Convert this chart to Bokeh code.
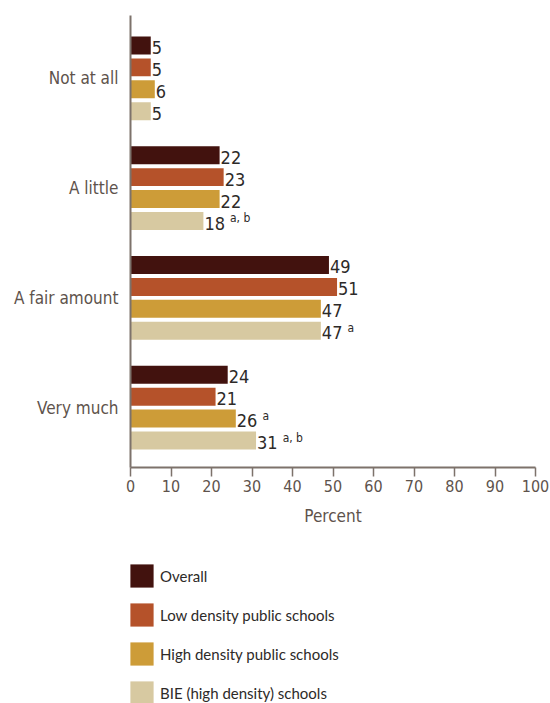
from bokeh.plotting import figure
from bokeh.layouts import column
from bokeh.models import ColumnDataSource, Range1d, FixedTicker, Legend, LegendItem
from bokeh.core.properties import value
from bokeh.embed import file_html
from bokeh.resources import INLINE

categories = ["Not at all", "A little", "A fair amount", "Very much"]
series_names = ["Overall", "Low density public schools", "High density public schools", "BIE (high density) schools"]
overall = [5, 22, 49, 24]
low_density = [5, 23, 51, 21]
high_density = [6, 22, 47, 26]
bie = [5, 18, 47, 31]
notes_overall = ["", "", "", ""]
notes_low = ["", "", "", ""]
notes_high = ["", "", "", "a"]
notes_bie = ["", "a, b", "a", "a, b"]
colors = ["#42120e", "#b5522a", "#cd9c38", "#d7c9a1"]
x_ticks = [0, 10, 20, 30, 40, 50, 60, 70, 80, 90, 100]

FONT = "DejaVu Sans Condensed"
LEG_FONT = "Lato"

p = figure(width=550, height=548, output_backend="svg", toolbar_location=None,
           x_range=Range1d(0, 100), y_range=Range1d(3.5455, -0.5727),
           min_border_left=130, min_border_right=15, min_border_top=15, min_border_bottom=81)
p.outline_line_color = None
p.xgrid.visible = False
p.ygrid.visible = False
p.background_fill_color = "white"
p.border_fill_color = "white"

all_vals = [overall, low_density, high_density, bie]
all_notes = [notes_overall, notes_low, notes_high, notes_bie]
step = 0.2
bar_h = 18 / 110
DIGIT_W = 10.3
for j, (vals, notes, col) in enumerate(zip(all_vals, all_notes, colors)):
    ys = [i + (j - 1.5) * step for i in range(len(categories))]
    src = ColumnDataSource(dict(y=ys, right=vals, label=[str(v) for v in vals]))
    p.hbar(y="y", left=0, right="right", height=bar_h, color=col, line_color=None, source=src)
    p.text(x="right", y="y", text="label", source=src, x_offset=1, y_offset=2,
           text_baseline="middle", text_align="left", text_font=value(FONT),
           text_font_size="18px", text_color="#2d2a28")
    nsrc = ColumnDataSource(dict(y=[y for y, n in zip(ys, notes) if n],
                                 x=[v for v, n in zip(vals, notes) if n],
                                 note=[n for n in notes if n],
                                 off=[len(str(v)) * DIGIT_W + 6 for v, n in zip(vals, notes) if n]))
    p.text(x="x", y="y", text="note", source=nsrc, x_offset="off", y_offset=-3,
           text_baseline="middle", text_align="left", text_font=value(FONT),
           text_font_size="12px", text_color="#2d2a28")

axis_col = "#7d726b"
lab_col = "#5e534c"
p.yaxis.ticker = FixedTicker(ticks=list(range(len(categories))))
p.yaxis.major_label_overrides = {i: c for i, c in enumerate(categories)}
p.yaxis.major_tick_out = 0
p.yaxis.major_tick_in = 0
p.yaxis.minor_tick_out = 0
p.yaxis.minor_tick_in = 0
p.yaxis.axis_line_color = axis_col
p.yaxis.axis_line_width = 2
p.yaxis.major_label_standoff = 12
p.yaxis.major_label_text_font = FONT
p.yaxis.major_label_text_font_size = "17px"
p.yaxis.major_label_text_color = lab_col

p.xaxis.ticker = FixedTicker(ticks=x_ticks)
p.xaxis.axis_line_color = axis_col
p.xaxis.axis_line_width = 2
p.xaxis.major_tick_line_color = axis_col
p.xaxis.major_tick_line_width = 1.5
p.xaxis.major_tick_out = 9
p.xaxis.major_tick_in = 0
p.xaxis.minor_tick_out = 0
p.xaxis.minor_tick_in = 0
p.xaxis.major_label_standoff = 3
p.xaxis.major_label_text_font = FONT
p.xaxis.major_label_text_font_size = "16px"
p.xaxis.major_label_text_color = lab_col
p.xaxis.axis_label = "Percent"
p.xaxis.axis_label_text_font = FONT
p.xaxis.axis_label_text_font_size = "17px"
p.xaxis.axis_label_text_font_style = "normal"
p.xaxis.axis_label_text_color = lab_col
p.xaxis.axis_label_standoff = 11

# legend panel (frame edges are aligned with the main chart by the column layout)
lg = figure(width=550, height=155, output_backend="svg", toolbar_location=None,
            x_range=Range1d(0, 1), y_range=Range1d(0, 1),
            x_axis_type=None, y_axis_type=None,
            min_border_left=0, min_border_right=0, min_border_top=0, min_border_bottom=0)
lg.outline_line_color = None
lg.xgrid.visible = False
lg.ygrid.visible = False
items = []
for name, col in zip(series_names, colors):
    r = lg.hbar(y=[-10], left=[0], right=[1], height=0.1, color=col, line_color=None)
    items.append(LegendItem(label=name, renderers=[r]))
legend = Legend(items=items, location=(-3, -4), orientation="vertical",
                glyph_width=29, glyph_height=29, spacing=10, label_standoff=4,
                padding=0, margin=0, border_line_color=None, background_fill_alpha=0,
                label_text_font=LEG_FONT, label_text_font_size="15px",
                label_text_color="#2d2a28", label_text_baseline="middle")
lg.add_layout(legend, "center")

open("out.html", "w").write(file_html(column(p, lg), INLINE))
